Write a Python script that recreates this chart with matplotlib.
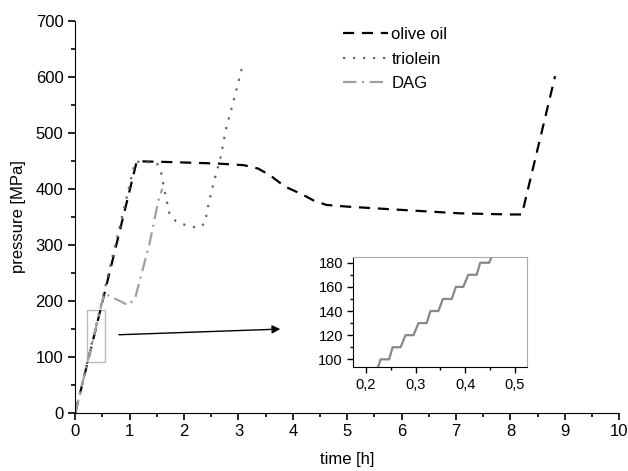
import numpy as np
import matplotlib
matplotlib.use("Agg")
import matplotlib.pyplot as plt
from matplotlib.patches import Rectangle
from matplotlib.ticker import MultipleLocator, FuncFormatter

plt.rcParams['font.family'] = ['Liberation Sans', 'DejaVu Sans']

# olive oil
olive_t = [0, 1.13, 1.6, 2.6, 3.1, 3.36, 3.58, 3.85, 4.19, 4.4, 4.62, 5.0, 5.85, 7.07, 8.0, 8.21, 8.82]
olive_p = [0, 449, 448, 445, 442, 436, 424, 404, 389, 378, 371, 368, 363, 356, 354, 354, 601]

# triolein
tri_t = [0, 1.1, 1.25, 1.5, 1.575, 1.65, 1.73, 1.85, 2.05, 2.26, 2.38, 2.44, 2.54, 2.66, 2.78, 2.9, 3.07]
tri_p = [0, 448, 448, 446, 430, 392, 356, 342, 334, 330, 338, 368, 410, 451, 511, 553, 618]

# DAG
dag_t = [0, 0.53, 0.62, 0.97, 1.10, 1.19, 1.36, 1.53, 1.6]
dag_p = [0, 212, 209, 192, 204, 238, 300, 380, 400]

# DAG detail (inset)
ins_t = [0.224, 0.230, 0.247, 0.254, 0.270, 0.280, 0.296, 0.306, 0.3225, 0.330,
         0.346, 0.355, 0.373, 0.381, 0.396, 0.406, 0.423, 0.430, 0.448, 0.453]
ins_p = [93, 100, 100, 110, 110, 120, 120, 130, 130, 140,
         140, 150, 150, 160, 160, 170, 170, 180, 180, 185]

fig = plt.figure(figsize=(6.28, 4.71), dpi=100)
ax = fig.add_axes([0.1199, 0.1238, 0.8662, 0.8322])

ax.plot(olive_t, olive_p, color='black', lw=1.6, ls=(0, (5, 3.5)), label='olive oil')
ax.plot(tri_t, tri_p, color='#666666', lw=1.6, ls=(0, (1, 3.5)), label='triolein')
ax.plot(dag_t, dag_p, color='#a0a0a0', lw=1.6, ls=(0, (6, 2.5, 1, 2.5)), label='DAG')

ax.set_xlim(0, 10)
ax.set_ylim(0, 700)
ax.xaxis.set_major_locator(MultipleLocator(1))
ax.xaxis.set_minor_locator(MultipleLocator(0.5))
ax.yaxis.set_major_locator(MultipleLocator(100))
ax.yaxis.set_minor_locator(MultipleLocator(50))
ax.spines['top'].set_visible(False)
ax.spines['right'].set_visible(False)
ax.tick_params(which='major', direction='out', length=5, width=1.2, labelsize=12)
ax.tick_params(which='minor', direction='out', length=3, width=1.2)
ax.set_xlabel('time [h]', fontsize=12, labelpad=9)
ax.set_ylabel('pressure [MPa]', fontsize=12, labelpad=7)

ax.legend(loc='upper left', bbox_to_anchor=(343 / 628, 1 - 27 / 471),
          bbox_transform=fig.transFigure, frameon=False, fontsize=12,
          handlelength=2.7, handletextpad=0.2, labelspacing=0.58,
          borderpad=0, borderaxespad=0)

# zoom box and arrow
ax.add_patch(Rectangle((0.21, 91), 0.34, 92, fill=False, edgecolor='#bbbbbb', lw=1))
ax.annotate('', xy=(3.82, 149.5), xytext=(0.75, 139),
            arrowprops=dict(arrowstyle='-|>', color='black', lw=1, mutation_scale=12))

# inset
axi = fig.add_axes([0.5626, 0.2202, 0.2761, 0.2335])
axi.plot(ins_t, ins_p, color='#888888', lw=1.6)
axi.set_xlim(0.175, 0.5235)
axi.set_ylim(93.4, 184.5)
axi.xaxis.set_major_locator(MultipleLocator(0.1))
axi.xaxis.set_minor_locator(MultipleLocator(0.05))
axi.yaxis.set_major_locator(MultipleLocator(20))
axi.yaxis.set_minor_locator(MultipleLocator(10))
axi.xaxis.set_major_formatter(FuncFormatter(lambda v, p: f'{v:.1f}'.replace('.', ',')))
axi.spines['top'].set_color('#aaaaaa')
axi.spines['right'].set_color('#aaaaaa')
axi.tick_params(which='major', direction='out', length=4, width=1, labelsize=10.5)
axi.tick_params(which='minor', direction='out', length=2.5, width=1)

fig.savefig('out.png', dpi=100)
